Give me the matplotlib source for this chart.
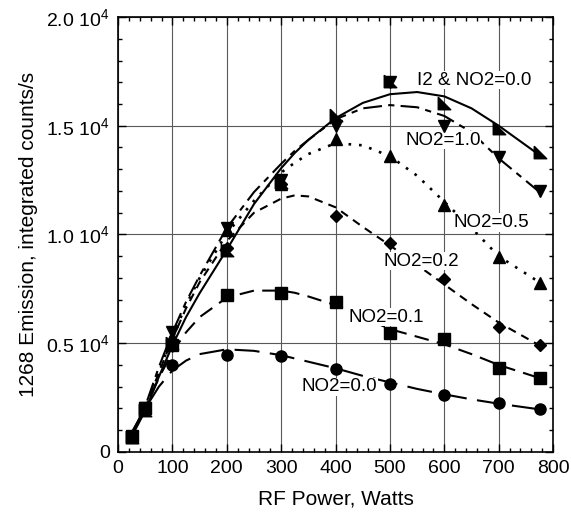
import matplotlib
matplotlib.use("Agg")
import matplotlib.pyplot as plt
from matplotlib.ticker import MultipleLocator

plt.rcParams['font.family'] = ['Liberation Sans', 'DejaVu Sans']
plt.rcParams['mathtext.default'] = 'regular'

# measured points (RF power in W, emission in counts/s)
power = [25, 50, 100, 200, 300, 400, 500, 600, 700, 775]
i2_no2_00 = [700, 1950, 5000, 9300, 12400, 15500, 17050, 16050, 14900, 13800]
no2_10 = [700, 2000, 5500, 10300, 12500, 15000, 17000, 15000, 13550, 12000]
no2_05 = [700, 2000, 5300, 10200, 12300, 14400, 13600, 11350, 8970, 7770]
no2_02 = [750, 2000, 5000, 9400, 12300, 10850, 9600, 7950, 5750, 4920]
no2_01 = [750, 2000, 4900, 7200, 7300, 6900, 5470, 5200, 3860, 3400]
no2_00 = [750, 2000, 4000, 4460, 4410, 3800, 3130, 2620, 2250, 1980]

# fitted curves
fit_x = [25, 50, 75, 100, 125, 150, 200, 250, 300, 325, 350, 400, 450, 500, 550, 600, 650, 700, 775]
fit_i2 = [700, 1900, 3450, 4900, 6200, 7300, 9300, 11400, 13050, 13750, 14350, 15350, 16050, 16450, 16550, 16350, 15800, 15000, 13650]
fit_10 = [800, 2100, 3900, 5500, 6900, 8100, 10300, 11950, 13250, 13850, 14350, 15300, 15800, 15950, 15850, 15450, 14700, 13500, 11950]
fit_05 = [800, 2000, 3700, 5300, 6750, 8000, 10050, 11550, 12850, 13300, 13700, 14200, 14100, 13600, 12700, 11500, 10300, 9000, 7800]
fit_02 = [800, 2000, 3650, 5200, 6600, 7800, 9700, 11000, 11650, 11800, 11750, 11250, 10350, 9500, 8600, 7700, 6800, 5950, 4900]
fit_01 = [800, 2000, 3400, 4600, 5500, 6200, 7100, 7420, 7420, 7320, 7150, 6750, 6200, 5650, 5300, 4950, 4500, 4000, 3400]
fit_00 = [900, 2000, 3000, 3750, 4200, 4500, 4720, 4650, 4450, 4300, 4150, 3850, 3500, 3200, 2900, 2650, 2420, 2220, 1960]

labels = ['I2 & NO2=0.0', 'NO2=1.0', 'NO2=0.5', 'NO2=0.2', 'NO2=0.1', 'NO2=0.0']
label_pos = [(550, 17100), (528, 14340), (616, 10550), (489, 8780), (423, 6200), (338, 2990)]

fig = plt.figure(figsize=(5.71, 5.2), dpi=100)
ax = fig.add_axes([0.2067, 0.1308, 0.762, 0.8365])

ax.grid(True, which='major', color='0.35', lw=0.8, zorder=0)
ax.set_axisbelow(True)

tri_corner = [(-1, 1), (-1, -1), (1, -1), (-1, 1)]
series = [
    (i2_no2_00, fit_i2, tri_corner, '-', 1.5, 9),
    (no2_10, fit_10, 'v', (0, (9, 3, 3, 3)), 1.5, 8),
    (no2_05, fit_05, '^', (0, (1, 3)), 1.9, 8),
    (no2_02, fit_02, 'D', (0, (4, 3)), 1.5, 6),
    (no2_01, fit_01, 's', (0, (7, 4)), 1.5, 8),
    (no2_00, fit_00, 'o', (0, (12, 5)), 1.5, 8),
]
for pts, fit, mk, ls, lw, ms in series:
    ax.plot(fit_x, fit, color='black', lw=lw, linestyle=ls, zorder=2)
    ax.plot(power, pts, linestyle='none', marker=mk, ms=ms, color='black', zorder=4)

for txt, (x, y) in zip(labels, label_pos):
    ax.text(x, y, txt, fontsize=13.5, ha='left', va='center', zorder=3,
            bbox=dict(facecolor='white', edgecolor='none', pad=0.5))

ax.set_xlim(0, 800)
ax.set_ylim(0, 20000)
ax.xaxis.set_major_locator(MultipleLocator(100))
ax.xaxis.set_minor_locator(MultipleLocator(20))
ax.yaxis.set_minor_locator(MultipleLocator(1000))
ax.set_yticks([0, 5000, 10000, 15000, 20000])
ax.set_yticklabels(['0', '0.5 10$^4$', '1.0 10$^4$', '1.5 10$^4$', '2.0 10$^4$'])

ax.tick_params(which='both', direction='in', top=True, right=True, labelsize=14, width=1)
ax.tick_params(which='major', length=6, pad=6)
ax.tick_params(which='minor', length=3)
for sp in ax.spines.values():
    sp.set_linewidth(1.2)

ax.set_xlabel('RF Power, Watts', fontsize=15, labelpad=9)
ax.set_ylabel('1268 Emission, integrated counts/s', fontsize=15, labelpad=6)

fig.savefig('out.png', dpi=100)
